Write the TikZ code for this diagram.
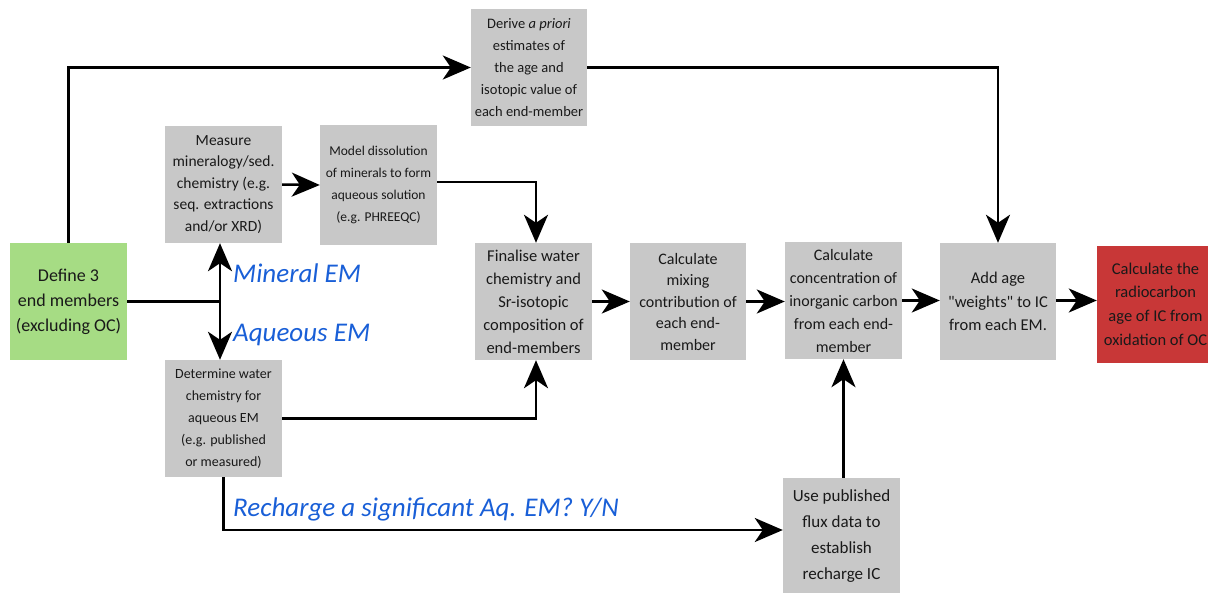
\documentclass[tikz,border=0pt]{standalone}
\usepackage{fontspec}
\setmainfont{Carlito}
\usetikzlibrary{arrows.meta}
\definecolor{boxgray}{RGB}{200,200,200}
\definecolor{boxgreen}{RGB}{166,220,132}
\definecolor{boxred}{RGB}{200,55,55}
\definecolor{emblue}{RGB}{25,95,215}
\newcommand\strq{\XeTeXglyph\XeTeXcharglyph"22\relax}
\begin{document}
\begin{tikzpicture}[x=1pt,y=-1pt,
  box/.style={fill=boxgray, inner sep=0pt, minimum width=117pt, minimum height=117pt, align=center, text=black!90},
  conn/.style={line width=2.5pt, -{Stealth[length=28pt,width=24pt,inset=8pt]}},
  plain/.style={line width=2.5pt},
  lbl/.style={text=emblue, font=\fontsize{27}{30}\selectfont\itshape, anchor=base west, inner sep=0pt}]
\useasboundingbox (0,0) rectangle (1208,592);

\node[box, fill=boxgreen, font=\fontsize{18}{25}\selectfont] (define) at (68.5,301.5) {Define 3\\end members\\(excluding OC)};
\node[box, minimum width=116pt, font=\fontsize{14.5}{22}\selectfont] (derive) at (529,67.5) {Derive \textit{a priori}\\estimates of\\the age and\\isotopic value of\\each end-member};
\node[box, font=\fontsize{15.5}{21.5}\selectfont] (measure) at (223.5,184.5) {Measure\\mineralogy/sed.\\chemistry (e.g.\\seq. extractions\\and/or XRD)};
\node[box, minimum height=120pt, font=\fontsize{13.5}{22}\selectfont] (model) at (378.5,185) {Model dissolution\\of minerals to form\\aqueous solution\\(e.g. PHREEQC)};
\node[box, font=\fontsize{14}{22}\selectfont] (determine) at (223.5,418.5) {Determine water\\chemistry for\\aqueous EM\\(e.g. published\\or measured)};
\node[box, font=\fontsize{16.5}{23}\selectfont] (finalise) at (533.5,301.5) {Finalise water\\chemistry and\\Sr-isotopic\\composition of\\end-members};
\node[box, minimum width=116pt, font=\fontsize{16}{21.5}\selectfont] (mixing) at (688,301.5) {Calculate\\mixing\\contribution of\\each end-\\member};
\node[box, font=\fontsize{16}{23}\selectfont] (conc) at (843.5,300.5) {Calculate\\concentration of\\inorganic carbon\\from each end-\\member};
\node[box, minimum width=116pt, font=\fontsize{16.5}{23.5}\selectfont] (addage) at (998,301.5) {Add age\\\strq weights\strq{} to IC\\from each EM.};
\node[box, fill=boxred, font=\fontsize{16.5}{23.7}\selectfont] (radio) at (1155.5,304) {Calculate the\\radiocarbon\\age of IC from\\oxidation of OC};
\node[box, minimum height=116pt, font=\fontsize{17}{26}\selectfont] (usepub) at (841.5,536) {Use published\\flux data to\\establish\\recharge IC};

\coordinate (j) at (220,301.5);
\draw[conn] (define.north) |- (derive.west);
\draw[conn] (derive.east) -| (addage.north);
\draw[plain] (define.east) -- (j);
\draw[conn] (j) -- (j |- measure.south);
\draw[conn] (j) -- (j |- determine.north);
\draw[conn] (measure.east) -- (model.west);
\draw[conn] ([yshift=3pt]model.east) -| ([xshift=2.5pt]finalise.north);
\draw[conn] (determine.east) -| ([xshift=2.5pt]finalise.south);
\draw[conn] (finalise.east) -- (mixing.west);
\draw[conn] (mixing.east) -- (mixing.east -| conc.west);
\draw[conn] (conc.east) -- (conc.east -| addage.west);
\draw[conn] ([yshift=1pt]addage.east) -- ([yshift=1pt]addage.east -| radio.west);
\draw[conn] (usepub.north -| conc.south) -- (conc.south);
\draw[conn] (determine.south) |- ([yshift=6pt]usepub.west);

\node[lbl] (mineral) at (233,282) {Mineral EM};
\node[lbl] (aqueous) at (233,341) {Aqueous EM};
\node[lbl] (recharge) at (233,516) {Recharge a significant Aq. EM? Y/N};
\end{tikzpicture}
\end{document}
